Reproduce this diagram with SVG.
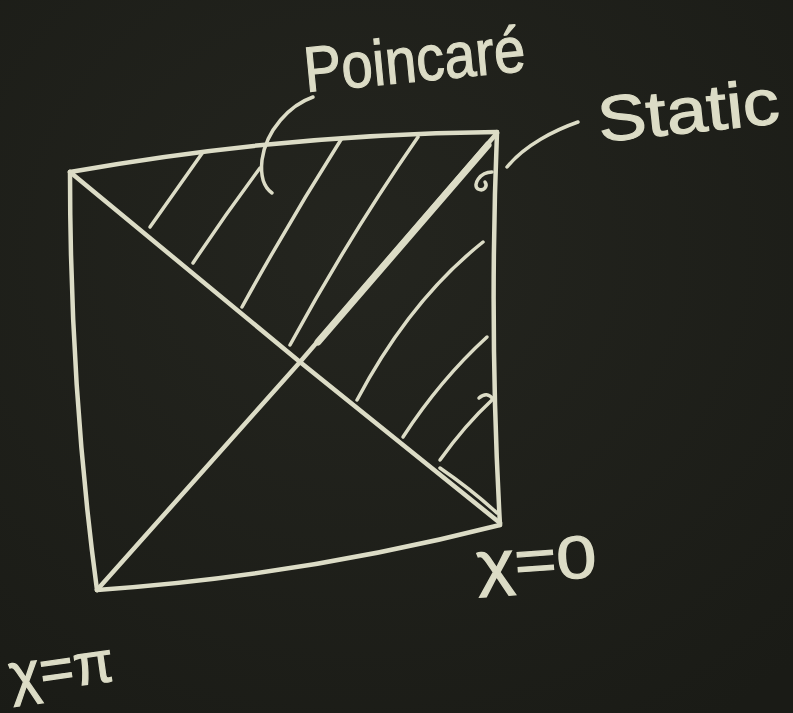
<svg xmlns="http://www.w3.org/2000/svg" width="793" height="713" viewBox="0 0 793 713">
<defs>
<radialGradient id="bg" cx="0.45" cy="0.35" r="0.8">
<stop offset="0" stop-color="#24251f"/>
<stop offset="1" stop-color="#1a1b16"/>
</radialGradient>
</defs>
<style>
.ch{fill:none;stroke:#dcdcc6;stroke-width:4.5;stroke-linecap:round;stroke-linejoin:round}
.th{stroke-width:3.5}
.tx{fill:#dcdcc6;stroke:#dcdcc6;stroke-width:1.2;font-family:"Liberation Sans","DejaVu Sans",sans-serif}
</style>
<rect width="793" height="713" fill="url(#bg)"/>
<g id="square">
<path class="ch" d="M70,172 Q282,134 497,132"/>
<path class="ch" d="M497,132 Q489,330 500,525"/>
<path class="ch" d="M500,525 Q300,576 97,590"/>
<path class="ch" d="M97,590 Q70,390 70,172"/>
</g>
<g id="diagonals">
<path class="ch" d="M70,172 L300,362 L500,523"/>
<path class="ch" d="M97,590 L300,362 L497,133"/>
<path class="ch" style="stroke-width:7" d="M318,342 L488,145"/>
<path class="ch th" d="M440,468 Q472,490 497,513"/>
</g>
<g id="hatching">
<path class="ch th" d="M150,227 L203,152"/>
<path class="ch th" d="M193,263 Q225,215 260,168"/>
<path class="ch th" d="M242,307 Q290,220 342,138"/>
<path class="ch th" d="M290,345 Q350,235 418,137"/>
<path class="ch th" d="M357,400 Q410,300 483,242"/>
<path class="ch th" d="M403,437 Q440,380 487,337"/>
<path class="ch th" d="M440,460 Q465,425 492,400"/>
<path class="ch th" d="M479,398 Q487,391 493,399"/>
</g>
<g id="label-poincare">
<path class="ch th" d="M313,97 C290,105 266,130 262,160 C260,178 265,188 272,193"/>
<text class="tx" x="306" y="92" font-size="64" textLength="222" lengthAdjust="spacingAndGlyphs" transform="rotate(-5.5 306 92)">Poincaré</text>
</g>
<g id="label-static">
<path class="ch th" d="M578,122 C555,130 525,145 507,167"/>
<path class="ch th" d="M492,172 C480,172 472,185 478,189 C484,192 488,186 485,182"/>
<text class="tx" x="600" y="142" font-size="64" textLength="182" lengthAdjust="spacingAndGlyphs" transform="rotate(-6 600 142)">Static</text>
</g>
<g id="label-chi0">
<text class="tx" x="478" y="585" font-size="60" textLength="120" lengthAdjust="spacingAndGlyphs" transform="rotate(-4 478 585)">χ=0</text>
</g>
<g id="label-chipi">
<text class="tx" x="12" y="695" font-size="58" textLength="105" lengthAdjust="spacingAndGlyphs" transform="rotate(-8 12 695)">χ=π</text>
</g>
</svg>
